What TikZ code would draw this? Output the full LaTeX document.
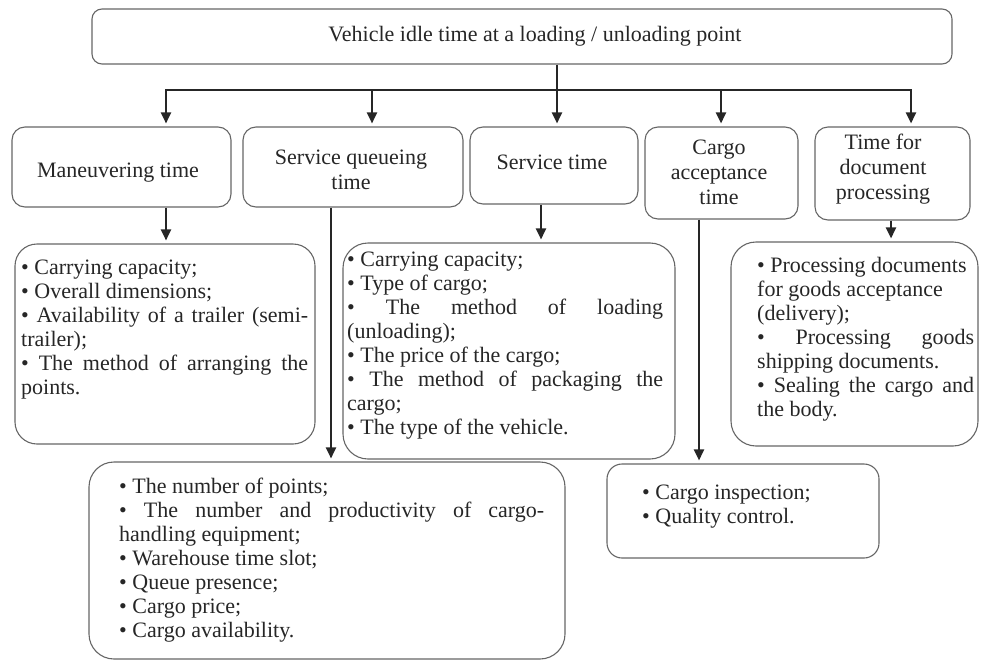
\documentclass[tikz,border=0pt]{standalone}
\usepackage{fontspec}
\setmainfont{Liberation Serif}
\usetikzlibrary{arrows.meta}
\newcommand\myJ[2]{\hbox to #1{#2}}
\newcommand\myP[1]{\hbox{#1}}
\newcommand\myLst[1]{\vtop{\baselineskip=24pt\lineskiplimit=-20pt\lineskip=0pt #1}}
\begin{document}
\begin{tikzpicture}[x=1pt,y=-1pt,
  box/.style={draw=black!60, line width=1.1pt, rounded corners=#1, inner sep=0pt},
  box/.default=13pt,
  head/.style={font=\fontsize{22}{25}\selectfont, text=black!85, align=center, inner sep=0pt},
  lst/.style={font=\fontsize{22}{24}\selectfont, text=black!85, inner sep=0pt, anchor=base west},
  conn/.style={draw=black!85, line width=2.2pt},
  arr/.style={conn, -{Triangle[width=10pt,length=11pt]}, shorten >=3pt},
]
\useasboundingbox (0,0) rectangle (981,661);

% boxes
\node[box=10pt, minimum width=860pt, minimum height=55pt] (top) at (522,36.5) {};
\node[box, minimum width=219pt, minimum height=80pt] (man) at (121.5,167) {};
\node[box, minimum width=220pt, minimum height=80pt] (queue) at (353,167) {};
\node[box, minimum width=168pt, minimum height=77pt] (serv) at (554,165.5) {};
\node[box, minimum width=153pt, minimum height=92pt] (cargo) at (721.5,173) {};
\node[box, minimum width=155pt, minimum height=93pt] (doc) at (892.5,173.5) {};
\node[box=22pt, minimum width=300pt, minimum height=200pt] (manl) at (165,344) {};
\node[box=25pt, minimum width=332pt, minimum height=216pt] (servl) at (509,351) {};
\node[box=25pt, minimum width=247pt, minimum height=204pt] (docl) at (854.5,344) {};
\node[box=25pt, minimum width=476pt, minimum height=197pt] (queuel) at (327,560.5) {};
\node[box=15pt, minimum width=272pt, minimum height=94pt] (cargol) at (743,511) {};

% headings
\node[head] (topT) at (535,36) {Vehicle idle time at a loading / unloading point};
\node[head] (manT) at (118,173) {Maneuvering time};
\node[head] (queueT) at (351,169.5) {Service queueing\\time};
\node[head] (servT) at (552,162) {Service time};
\node[head] (cargoT) at (719,172) {Cargo\\acceptance\\time};
\node[head] (docT) at (883,169.5) {Time for\\document\\processing};

% lists
\node[lst] (manLT) at (21,274) {\myLst{%
  \myP{• Carrying capacity;}
  \myP{• Overall dimensions;}
  \myJ{287pt}{• Availability of a trailer (semi-}
  \myP{trailer);}
  \myJ{287pt}{• The method of arranging the}
  \myP{points.}}};
\node[lst] (servLT) at (347,266) {\myLst{%
  \myP{• Carrying capacity;}
  \myP{• Type of cargo;}
  \myJ{316pt}{• The method of loading}
  \myP{(unloading);}
  \myP{• The price of the cargo;}
  \myJ{316pt}{• The method of packaging the}
  \myP{cargo;}
  \myP{• The type of the vehicle.}}};
\node[lst] (docLT) at (757,272) {\myLst{%
  \myP{• Processing documents}
  \myP{for goods acceptance}
  \myP{(delivery);}
  \myJ{217pt}{• Processing goods}
  \myP{shipping documents.}
  \myJ{217pt}{• Sealing the cargo and}
  \myP{the body.}}};
\node[lst] (queueLT) at (119,493) {\myLst{%
  \myP{• The number of points;}
  \myJ{425pt}{• The number and productivity of cargo-}
  \myP{handling equipment;}
  \myP{• Warehouse time slot;}
  \myP{• Queue presence;}
  \myP{• Cargo price;}
  \myP{• Cargo availability.}}};
\node[lst] (cargoLT) at (642,499) {\myLst{%
  \myP{• Cargo inspection;}
  \myP{• Quality control.}}};

% connectors, top level
\coordinate (j1) at (166,90);
\coordinate (j2) at (372,90);
\coordinate (j3) at (557,90);
\coordinate (j4) at (721,90);
\coordinate (j5) at (911,90);
\draw[conn] (top.south -| j3) -- (j3);
\draw[conn, line cap=rect] (j1) -- (j5);
\draw[arr] (j1) -- (man.north -| j1);
\draw[arr] (j2) -- (queue.north -| j2);
\draw[arr] (j3) -- (serv.north -| j3);
\draw[arr] (j4) -- (cargo.north -| j4);
\draw[arr] (j5) -- (doc.north -| j5);

% connectors, second level
\coordinate (k1) at (166,0);
\coordinate (k2) at (331,0);
\coordinate (k3) at (541,0);
\coordinate (k4) at (699,0);
\coordinate (k5) at (891,0);
\draw[arr] (man.south -| k1) -- (manl.north -| k1);
\draw[arr] (queue.south -| k2) -- (queuel.north -| k2);
\draw[arr] (serv.south -| k3) -- (servl.north -| k3);
\draw[arr] (cargo.south -| k4) -- (cargol.north -| k4);
\draw[arr] (doc.south -| k5) -- (docl.north -| k5);
\end{tikzpicture}
\end{document}
